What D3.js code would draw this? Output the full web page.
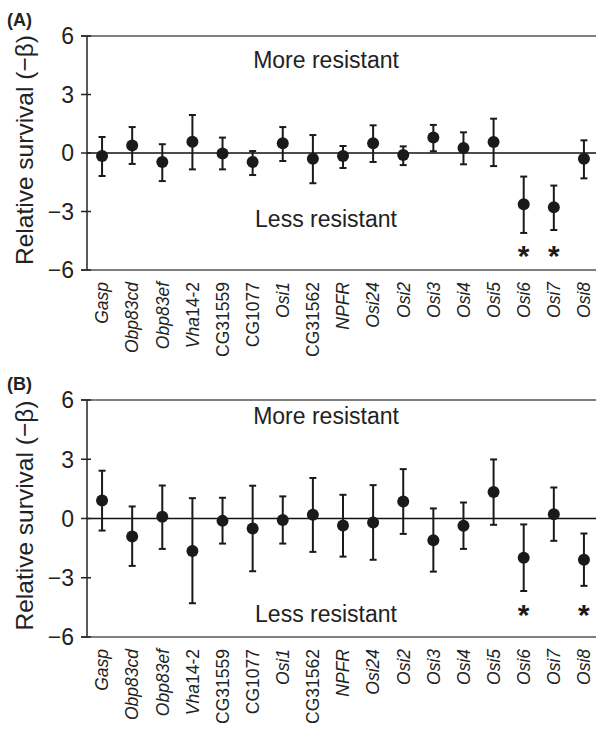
<!DOCTYPE html>
<html>
<head>
<meta charset="utf-8">
<script src="https://cdn.jsdelivr.net/npm/d3@7"></script>
<style>
  body { margin: 0; background: #fff; }
  svg { display: block; font-family: Arial, "Liberation Sans", sans-serif; }
</style>
</head>
<body>
<div id="chart"></div>
<script>
// genes on the x axis
var genes = ['Gasp', 'Obp83cd', 'Obp83ef', 'Vha14-2', 'CG31559', 'CG1077', 'Osi1', 'CG31562',
  'NPFR', 'Osi24', 'Osi2', 'Osi3', 'Osi4', 'Osi5', 'Osi6', 'Osi7', 'Osi8'];
var yTicks = [-6, -3, 0, 3, 6];

// panel A
var valA = [-0.15, 0.39, -0.46, 0.58, -0.02, -0.46, 0.5, -0.29, -0.15, 0.5, -0.1, 0.8, 0.26, 0.56, -2.63, -2.78, -0.29];
var hiA  = [0.82, 1.33, 0.45, 1.95, 0.79, 0.1, 1.33, 0.92, 0.36, 1.42, 0.34, 1.44, 1.06, 1.76, -1.21, -1.67, 0.65];
var loA  = [-1.18, -0.56, -1.44, -0.84, -0.84, -1.13, -0.41, -1.55, -0.77, -0.46, -0.62, 0.09, -0.58, -0.67, -4.1, -3.95, -1.3];
var sigA = ['Osi6', 'Osi7'];

// panel B
var valB = [0.91, -0.91, 0.09, -1.64, -0.12, -0.51, -0.07, 0.19, -0.35, -0.2, 0.86, -1.1, -0.37, 1.34, -1.99, 0.22, -2.09];
var hiB  = [2.42, 0.61, 1.67, 1.03, 1.05, 1.66, 1.12, 2.05, 1.2, 1.69, 2.5, 0.51, 0.81, 2.99, -0.3, 1.57, -0.76];
var loB  = [-0.61, -2.4, -1.54, -4.29, -1.27, -2.67, -1.27, -1.69, -1.93, -2.09, -0.78, -2.69, -1.54, -0.32, -3.67, -1.13, -3.41];
var sigB = ['Osi6', 'Osi8'];

var width = 596, height = 729;
var svg = d3.select('#chart').append('svg').attr('width', width).attr('height', height);

var x = d3.scaleBand().domain(genes).range([87, 599]);

function drawPanel(tag, top, bottom, vals, his, los, sig, moreY, lessY, starY){
  var y = d3.scaleLinear().domain([-6, 6]).range([bottom, top]);
  var g = svg.append('g');

  g.append('text').attr('x', 7).attr('y', top - 10)
    .attr('font-size', 18).attr('font-weight', 'bold').attr('fill', '#222').text(tag);

  // frame: left axis, top, bottom, zero
  g.append('line').attr('x1', 87).attr('x2', 87).attr('y1', y(6)).attr('y2', y(-6))
    .attr('stroke', '#222').attr('stroke-width', 1.5);
  [6, -6, 0].forEach(function(v){
    g.append('line').attr('x1', v === 0 ? 87 : 81).attr('x2', width).attr('y1', y(v)).attr('y2', y(v))
      .attr('stroke', v === 0 ? '#111' : '#555').attr('stroke-width', 1.5);
  });

  g.selectAll('.tick').data(yTicks).enter().append('line')
    .attr('x1', 81).attr('x2', 91).attr('y1', function(d){ return y(d); }).attr('y2', function(d){ return y(d); })
    .attr('stroke', '#222').attr('stroke-width', 1.5);
  g.selectAll('.tl').data(yTicks).enter().append('text')
    .attr('x', 74).attr('y', function(d){ return y(d); }).attr('dy', '0.36em')
    .attr('text-anchor', 'end').attr('font-size', 23).attr('fill', '#222')
    .text(function(d){ return d < 0 ? '\u2212' + (-d) : d; });

  g.append('text').attr('transform', 'translate(' + [33, (top + bottom) / 2 - 3] + ') rotate(-90)')
    .attr('text-anchor', 'middle').attr('font-size', 24.5).attr('fill', '#222')
    .text('Relative survival (\u2212\u03b2)');

  g.append('text').attr('x', 326).attr('y', moreY).attr('text-anchor', 'middle')
    .attr('font-size', 23).attr('fill', '#222').text('More resistant');
  g.append('text').attr('x', 326).attr('y', lessY).attr('text-anchor', 'middle')
    .attr('font-size', 23).attr('fill', '#222').text('Less resistant');

  var pts = genes.map(function(name, i){ return {name: name, v: vals[i], hi: his[i], lo: los[i]}; });
  var cx = function(d){ return x(d.name) + x.bandwidth() / 2; };

  var bars = g.selectAll('.bar').data(pts).enter().append('g');
  bars.append('line').attr('x1', cx).attr('x2', cx)
    .attr('y1', function(d){ return y(d.hi); }).attr('y2', function(d){ return y(d.lo); })
    .attr('stroke', '#1a1a1a').attr('stroke-width', 2);
  [ 'hi', 'lo' ].forEach(function(k){
    bars.append('line').attr('x1', function(d){ return cx(d) - 3.5; }).attr('x2', function(d){ return cx(d) + 3.5; })
      .attr('y1', function(d){ return y(d[k]); }).attr('y2', function(d){ return y(d[k]); })
      .attr('stroke', '#1a1a1a').attr('stroke-width', 2);
  });
  bars.append('circle').attr('cx', cx).attr('cy', function(d){ return y(d.v); })
    .attr('r', 6).attr('fill', '#1a1a1a');

  g.selectAll('.star').data(sig).enter().append('text')
    .attr('x', function(d){ return x(d) + x.bandwidth() / 2; }).attr('y', starY)
    .attr('text-anchor', 'middle').attr('font-size', 30).attr('font-weight', 'bold')
    .attr('fill', '#1a1a1a').text('*');

  // gene labels
  var lab = g.selectAll('.gl').data(genes).enter().append('text')
    .attr('transform', function(d){ return 'translate(' + [x(d) + x.bandwidth() / 2, bottom + 12] + ') rotate(-90)'; })
    .attr('text-anchor', 'end').attr('dy', '0.36em').attr('font-size', 17.5).attr('fill', '#222');
  lab.each(function(d){
    var t = d3.select(this);
    if (d.indexOf('CG') === 0) { t.text(d); }
    else if (d === 'Vha14-2') {
      t.append('tspan').attr('font-style', 'italic').text('Vha');
      t.append('tspan').text('14-2');
    } else { t.attr('font-style', 'italic').text(d); }
  });
}

drawPanel('(A)', 36, 270, valA, hiA, loA, sigA, 68, 227, 266);
drawPanel('(B)', 400, 637, valB, hiB, loB, sigB, 424, 622, 625);
</script>
</body>
</html>
